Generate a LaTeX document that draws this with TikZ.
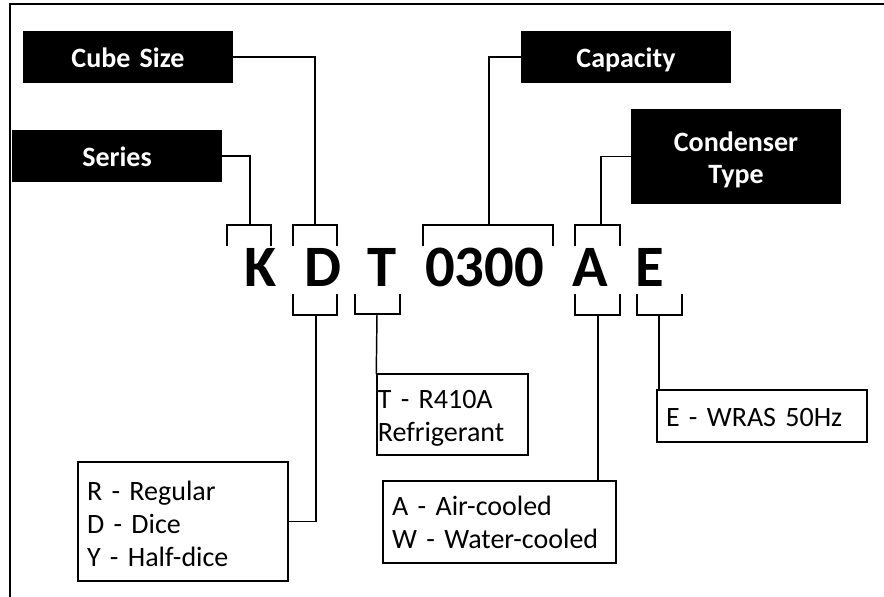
\documentclass[tikz,border=0pt]{standalone}
\usepackage{fontspec}
\setmainfont{Carlito}
\begin{document}
\begin{tikzpicture}[x=0.75pt,y=-0.75pt,
  ln/.style={line width=1.1pt, line cap=rect},
  blk/.style={fill=black, text=white, font=\fontsize{21}{24}\selectfont\bfseries, align=center, inner sep=0pt, text height=16pt, text width=157.5pt},
  info/.style={draw, line width=1.1pt, font=\fontsize{21}{24.75}\selectfont, align=left, inner ysep=0pt, text height=16pt},
  big/.style={font=\fontsize{44}{44}\selectfont\bfseries, anchor=base, inner sep=0pt}]
\useasboundingbox (0,0) rectangle (884,596);
% frame
\draw[line width=1.5pt] (10,600) -- (10,4) -- (890,4);

% black labels
\node[blk, text depth=0pt, minimum width=157.5pt, minimum height=39pt] (cube) at (128,57) {Cube Size};
\node[blk, text depth=0pt, minimum width=157.5pt, minimum height=39pt] (series) at (117,156) {Series};
\node[blk, text depth=0pt, minimum width=157.5pt, minimum height=39pt] (cap) at (626,57) {Capacity};
\node[blk, text depth=24.25pt, minimum width=157.5pt, minimum height=71.25pt] (cond) at (736,156.5) {Condenser\\Type};

% code letters
\node[big] (lK) at (261,286) {K};
\node[big] (lD) at (322.5,286) {D};
\node[big] (lT) at (382,286) {T};
\node[big] (lN) at (484.5,286) {0300};
\node[big] (lA) at (590,286) {A};
\node[big] (lE) at (650,286) {E};

% bracket stems
\coordinate (kT) at (250,225);
\coordinate (dT) at (315,225);
\coordinate (nT) at (489,225);
\coordinate (aT) at (601,225);
\coordinate (dB) at (316,315);
\coordinate (tB) at (377,314);
\coordinate (aB) at (598,315);
\coordinate (eB) at (659,315);

% top brackets
\draw[ln] (227,245) -- (227,225) -- (271,225) -- (271,245);
\draw[ln] (293,245) -- (293,225) -- (337,225) -- (337,245);
\draw[ln] (423,245) -- (423,225) -- (553,225) -- (553,245);
\draw[ln] (575,245) -- (575,225) -- (620,225) -- (620,245);
% bottom brackets
\draw[ln] (293,295) -- (293,315) -- (337,315) -- (337,295);
\draw[ln] (355,295) -- (355,314) -- (400,314) -- (400,295);
\draw[ln] (575,295) -- (575,315) -- (620,315) -- (620,295);
\draw[ln] (637,295) -- (637,315) -- (682,315) -- (682,295);

% info boxes
\node[info, text depth=48.25pt, minimum width=157.5pt, minimum height=89.25pt, text width=144pt, inner xsep=6.75pt] (rdy) at (183,521.5) {R - Regular\\D - Dice\\Y - Half-dice};
\node[info, text depth=25.75pt, minimum width=113.25pt, minimum height=60.75pt, text width=112pt, inner xsep=0.6pt] (tbox) at (452.5,414.5) {T - R410A\\Refrigerant};
\node[info, text depth=26.5pt, minimum width=174.75pt, minimum height=61.5pt, text width=161pt, inner xsep=6.9pt] (abox) at (499.5,522) {A - Air-cooled\\W - Water-cooled};
\node[info, text depth=0pt, minimum width=157.5pt, minimum height=39pt, text width=144pt, inner xsep=6.75pt] (ebox) at (762,416) {E - WRAS 50Hz};

% connectors
\draw[ln] (series.east) -| (kT);
\draw[ln] (cube.east) -| (dT);
\draw[ln] (cap.west) -| (nT);
\draw[ln] (cond.west) -| (aT);
\draw[ln] (dB) |- (rdy.east);
\draw[ln] (tB) -- (tbox.north west);
\draw[ln] (aB) -- (aB |- abox.north);
\draw[ln] (eB) -- (eB |- ebox.north);
\end{tikzpicture}
\end{document}
